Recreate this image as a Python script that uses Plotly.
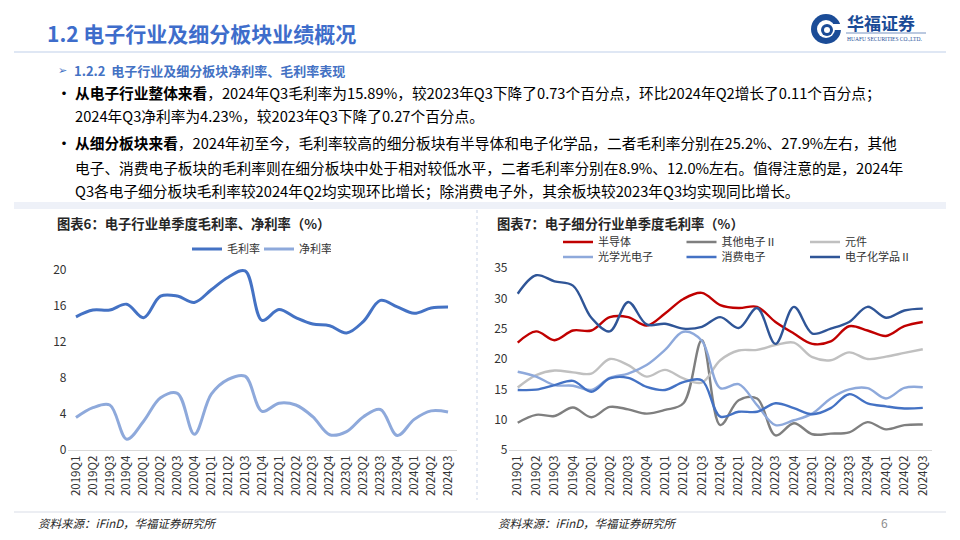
import plotly.graph_objects as go

W, H = 960, 540


def px(x):
    return x / W


def py(y):
    return 1 - y / H


# ---------------- data ----------------
quarters = ["2019Q1", "2019Q2", "2019Q3", "2019Q4", "2020Q1", "2020Q2", "2020Q3", "2020Q4",
            "2021Q1", "2021Q2", "2021Q3", "2021Q4", "2022Q1", "2022Q2", "2022Q3", "2022Q4",
            "2023Q1", "2023Q2", "2023Q3", "2023Q4", "2024Q1", "2024Q2", "2024Q3"]

# 图表6
gross_margin = [14.8, 15.55, 15.55, 16.2, 14.7, 17.1, 17.1, 16.4, 17.8, 19.2, 19.9, 14.4,
                15.6, 14.7, 14.0, 13.8, 13.0, 14.3, 16.62, 15.9, 15.2, 15.78, 15.89]
net_margin = [3.6, 4.7, 5.0, 1.2, 3.2, 5.8, 6.3, 1.75, 6.2, 7.85, 8.2, 4.3,
              5.2, 5.0, 3.7, 1.7, 2.05, 3.7, 4.50, 1.6, 3.4, 4.35, 4.23]

# 图表7
semiconductor = [22.7, 24.55, 23.1, 24.7, 24.7, 26.9, 26.9, 25.5, 27.5, 29.9, 30.9, 28.9,
                 28.4, 28.6, 26.1, 24.2, 22.5, 22.9, 25.4, 24.7, 23.8, 25.4, 26.1]
other_electronics = [9.5, 10.8, 10.6, 12.0, 10.4, 12.1, 11.7, 11.0, 11.6, 12.7, 23.1, 9.1,
                     13.2, 13.5, 7.4, 9.4, 7.6, 7.7, 7.9, 9.6, 8.4, 9.1, 9.2]
components = [15.3, 17.35, 18.1, 17.8, 17.6, 20.0, 19.0, 17.1, 18.2, 16.8, 16.1, 19.8,
              21.4, 21.5, 22.3, 22.7, 20.3, 19.8, 21.1, 20.0, 20.4, 21.0, 21.6]
optoelectronics = [17.9, 17.1, 15.7, 15.6, 14.9, 16.9, 17.6, 19.0, 21.5, 24.5, 23.0, 15.2,
                   15.85, 12.4, 9.1, 9.9, 11.0, 13.5, 15.0, 15.2, 13.5, 15.25, 15.35]
consumer_electronics = [14.9, 14.95, 15.7, 16.4, 14.6, 16.8, 16.9, 15.4, 14.9, 16.2, 16.5, 10.5,
                        11.3, 11.3, 12.7, 11.9, 10.9, 11.9, 14.2, 12.7, 12.2, 11.85, 11.95]
electronic_chemicals = [30.75, 33.8, 32.8, 32.1, 26.8, 24.55, 29.4, 25.7, 25.8, 25.0, 25.3, 26.9,
                        25.1, 28.4, 22.5, 28.6, 24.2, 25.0, 26.1, 28.6, 26.8, 28.0, 28.3]

chart6_names = ["毛利率", "净利率"]
chart7_names = ["半导体", "其他电子Ⅱ", "元件", "光学光电子", "消费电子", "电子化学品Ⅱ"]
y6_ticks = [0, 4, 8, 12, 16, 20]
y7_ticks = [5, 10, 15, 20, 25, 30, 35]

FONT = "Noto Sans CJK SC, Noto Sans, sans-serif"
BLUE_T = "#3E6DCB"

fig = go.Figure()


def add_line(y, name, color, width, xa, ya, legend):
    fig.add_trace(go.Scatter(
        x=quarters, y=y, name=name, mode="lines",
        line=dict(color=color, width=width, shape="spline", smoothing=1.0),
        xaxis=xa, yaxis=ya, legend=legend, hoverinfo="skip"))


add_line(gross_margin, chart6_names[0], "#4472C4", 3, "x", "y", "legend")
add_line(net_margin, chart6_names[1], "#8EA9DB", 3, "x", "y", "legend")

c7 = ["#C00000", "#7F7F7F", "#C0C0C0", "#8EA9DB", "#4472C4", "#2F5597"]
s7 = [semiconductor, other_electronics, components, optoelectronics,
      consumer_electronics, electronic_chemicals]
for i in range(6):
    add_line(s7[i], chart7_names[i], c7[i], 2.4, "x2", "y2", "legend2" if i < 3 else "legend3")

tickfont = dict(size=11.5, color="#333333", family=FONT)

# chart 6 axes
y6_top = 20.5
fig.update_layout(
    xaxis=dict(domain=[px(67.5), px(456.5)], type="category", range=[-0.5, 22.5],
               tickangle=-90, showline=True, linecolor="#D9D9D9", linewidth=1,
               showgrid=False, zeroline=False, ticks="", tickfont=tickfont, anchor="y",
               automargin=False),
    yaxis=dict(domain=[py(450), py(450 - y6_top * 9)], range=[0, y6_top], tickvals=y6_ticks,
               showgrid=False, zeroline=False, ticks="", showline=False, automargin=False,
               tickfont=dict(size=12, color="#333333", family=FONT), anchor="x"),
    xaxis2=dict(domain=[px(508.5), px(932)], type="category", range=[-0.5, 22.5],
                tickangle=-90, showline=True, linecolor="#D9D9D9", linewidth=1,
                showgrid=False, zeroline=False, ticks="", tickfont=tickfont, anchor="y2",
                automargin=False),
    yaxis2=dict(domain=[py(450), py(268)], range=[5, 35], tickvals=y7_ticks,
                showgrid=False, zeroline=False, ticks="", showline=False, automargin=False,
                tickfont=dict(size=12, color="#333333", family=FONT), anchor="x2"),
)

legend_common = dict(orientation="h", xanchor="left", yanchor="middle",
                     bgcolor="rgba(0,0,0,0)", itemwidth=30, entrywidthmode="pixels",
                     font=dict(size=11, color="#333333", family=FONT), traceorder="normal")
fig.update_layout(
    legend=dict(x=px(187), y=py(249), entrywidth=27, **legend_common),
    legend2=dict(x=px(558), y=py(242), entrywidth=78.5, **legend_common),
    legend3=dict(x=px(558), y=py(257), entrywidth=78.5, **legend_common),
)


def txt(x, y, s, size, color="#000000", family=FONT, xanchor="left"):
    fig.add_annotation(x=px(x), y=py(y), xref="paper", yref="paper", text=s,
                       showarrow=False, xanchor=xanchor, yanchor="middle", align="left",
                       font=dict(size=size, color=color, family=family), borderpad=0)


# header
txt(46, 33, "<b>1.2 电子行业及细分板块业绩概况</b>", 21, BLUE_T)
txt(57, 70, "➢", 11, "#4472C4", family="DejaVu Sans")
txt(73, 70, "<b>1.2.2  电子行业及细分板块净利率、毛利率表现</b>", 13, "#4472C4")

body = 14.7
txt(56, 92, "<b>•</b>", 14, "#000000")
txt(74, 92, "<b>从电子行业整体来看</b>，2024年Q3毛利率为15.89%，较2023年Q3下降了0.73个百分点，环比2024年Q2增长了0.11个百分点；", body)
txt(74, 116, "2024年Q3净利率为4.23%，较2023年Q3下降了0.27个百分点。", body)
txt(56, 142, "<b>•</b>", 14, "#000000")
txt(74, 142, "<b>从细分板块来看</b>，2024年初至今，毛利率较高的细分板块有半导体和电子化学品，二者毛利率分别在25.2%、27.9%左右，其他", body)
txt(74, 167, "电子、消费电子板块的毛利率则在细分板块中处于相对较低水平，二者毛利率分别在8.9%、12.0%左右。值得注意的是，2024年", body)
txt(74, 191, "Q3各电子细分板块毛利率较2024年Q2均实现环比增长；除消费电子外，其余板块较2023年Q3均实现同比增长。", body)

# chart titles
txt(56, 224, "<b>图表6：电子行业单季度毛利率、净利率（%）</b>", 13.3, "#262626")
txt(496, 224, "<b>图表7：电子细分行业单季度毛利率（%）</b>", 13.3, "#262626")

# sources
txt(37, 523, "<i>资料来源：iFinD，华福证券研究所</i>", 11.5, "#262626")
txt(497, 523, "<i>资料来源：iFinD，华福证券研究所</i>", 11.5, "#262626")
txt(884, 522, "6", 12, "#8C8C8C", xanchor="center")

# logo text
txt(846, 22, "<b>华福证券</b>", 17, "#1B4C97")
txt(846, 39, "HUAFU SECURITIES CO.,LTD.", 5.5, "#1B4C97", family="Liberation Serif")

shapes = []


def rect(x0, y0, x1, y1, fill, line=None, kind="rect"):
    shapes.append(dict(type=kind, xref="paper", yref="paper", x0=px(x0), x1=px(x1),
                       y0=py(y1), y1=py(y0), fillcolor=fill,
                       line=dict(width=0) if line is None else line, layer="below"))


def hline(x0, x1, y, color, width=1, dash="solid"):
    shapes.append(dict(type="line", xref="paper", yref="paper", x0=px(x0), x1=px(x1),
                       y0=py(y), y1=py(y), line=dict(color=color, width=width, dash=dash)))


def vline(x, y0, y1, color, width=1, dash="solid"):
    shapes.append(dict(type="line", xref="paper", yref="paper", x0=px(x), x1=px(x),
                       y0=py(y0), y1=py(y1), line=dict(color=color, width=width, dash=dash)))


hline(14, 946, 52, "#D5DFF0", 1.5)
hline(14, 946, 512, "#D9DEE8", 1.2)
rect(14, 202, 946, 209, "rgba(205,215,235,0.35)")
vline(477, 210, 500, "#C9D3E6", 1, "dot")

# logo icon
rect(811, 14, 841, 44, "#1B4C97", kind="circle")
rect(817, 20, 835, 38, "#FFFFFF", kind="circle")
rect(821, 24, 833, 36, "#1B4C97", kind="circle")
rect(824, 27, 830, 33, "#FFFFFF", kind="circle")
rect(833, 24, 842, 30, "#FFFFFF")
hline(846, 926, 33, "#1B4C97", 0.6)

fig.update_layout(
    shapes=shapes,
    width=W, height=H,
    margin=dict(l=0, r=0, t=0, b=0, autoexpand=False),
    paper_bgcolor="#FFFFFF", plot_bgcolor="rgba(0,0,0,0)",
    font=dict(family=FONT),
    showlegend=True,
)

fig.write_html("out.html", config={"displayModeBar": False},
               post_script="document.body.style.margin='0';document.body.style.overflow='hidden';")
